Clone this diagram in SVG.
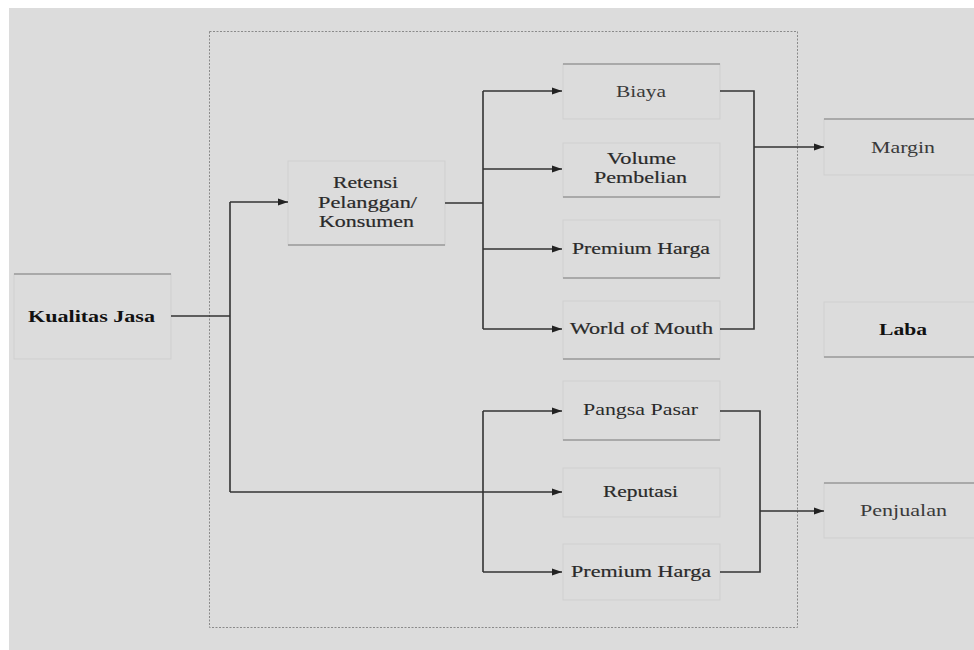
<svg xmlns="http://www.w3.org/2000/svg" width="974" height="650" viewBox="0 0 974 650">
  <style>
    .box { fill: #dcdcdc; stroke: #cfcfcf; stroke-width: 1; }
    .edge { stroke: #9a9a9a; stroke-width: 1.5; fill: none; }
    .lbl { font-family: "Liberation Serif", "Times New Roman", serif; font-size: 17px; fill: #2a2a2a; text-anchor: start; }
    .heavy { stroke: #2a2a2a; stroke-width: 0.2; }
    .light { fill: #3a3a3a; }
    .bold { font-weight: bold; fill: #111; }
    .wire { stroke: #333; stroke-width: 1.6; fill: none; }
    .frame { fill: none; stroke: #8a8a8a; stroke-width: 1; stroke-dasharray: 2 1.5; }
  </style>
  <defs>
    <marker id="arrow" markerWidth="10" markerHeight="8" refX="10" refY="4" orient="auto" markerUnits="userSpaceOnUse">
      <path d="M0,0.5 L10,4 L0,7.5 Z" fill="#222"/>
    </marker>
  </defs>

  <!-- page background -->
  <rect x="0" y="0" width="974" height="650" fill="#ffffff"/>
  <rect x="9" y="8" width="965" height="642" fill="#dcdcdc"/>

  <!-- dotted boundary around the mediating factors -->
  <rect class="frame" x="209.5" y="31.5" width="588" height="596"/>

  <!-- nodes -->
  <g id="kualitas-jasa">
    <rect class="box" x="14" y="274" width="157" height="85"/>
    <line class="edge" x1="14" y1="274" x2="171" y2="274"/>
    <text class="lbl bold" x="28" y="322" textLength="127" lengthAdjust="spacingAndGlyphs">Kualitas Jasa</text>
  </g>

  <g id="retensi">
    <rect class="box" x="288" y="161" width="157" height="84"/>
    <line class="edge" x1="288" y1="245" x2="445" y2="245"/>
    <text class="lbl heavy" x="333" y="188" textLength="65" lengthAdjust="spacingAndGlyphs">Retensi</text>
    <text class="lbl heavy" x="318" y="208" textLength="99" lengthAdjust="spacingAndGlyphs">Pelanggan/</text>
    <text class="lbl heavy" x="319" y="227" textLength="95" lengthAdjust="spacingAndGlyphs">Konsumen</text>
  </g>

  <g id="biaya">
    <rect class="box" x="563" y="64" width="157" height="55"/>
    <line class="edge" x1="563" y1="64" x2="720" y2="64" stroke="#b5b5b5"/>
    <text class="lbl light" x="616" y="97" textLength="50" lengthAdjust="spacingAndGlyphs">Biaya</text>
  </g>

  <g id="volume-pembelian">
    <rect class="box" x="563" y="143" width="157" height="54"/>
    <line class="edge" x1="563" y1="197" x2="720" y2="197"/>
    <text class="lbl heavy" x="607" y="164" textLength="69" lengthAdjust="spacingAndGlyphs">Volume</text>
    <text class="lbl heavy" x="594" y="183" textLength="93" lengthAdjust="spacingAndGlyphs">Pembelian</text>
  </g>

  <g id="premium-harga-1">
    <rect class="box" x="563" y="220" width="157" height="58"/>
    <line class="edge" x1="563" y1="278" x2="720" y2="278"/>
    <text class="lbl heavy" x="572" y="254" textLength="138" lengthAdjust="spacingAndGlyphs">Premium Harga</text>
  </g>

  <g id="world-of-mouth">
    <rect class="box" x="563" y="301" width="157" height="58"/>
    <line class="edge" x1="563" y1="359" x2="720" y2="359"/>
    <text class="lbl heavy" x="570" y="334" textLength="143" lengthAdjust="spacingAndGlyphs">World of Mouth</text>
  </g>

  <g id="pangsa-pasar">
    <rect class="box" x="563" y="381" width="157" height="59"/>
    <line class="edge" x1="563" y1="440" x2="720" y2="440"/>
    <text class="lbl" x="583" y="415" textLength="115" lengthAdjust="spacingAndGlyphs">Pangsa Pasar</text>
  </g>

  <g id="reputasi">
    <rect class="box" x="563" y="468" width="157" height="49"/>
    <text class="lbl heavy" x="603" y="497" textLength="75" lengthAdjust="spacingAndGlyphs">Reputasi</text>
  </g>

  <g id="premium-harga-2">
    <rect class="box" x="563" y="544" width="157" height="56"/>
    <text class="lbl heavy" x="571" y="577" textLength="140" lengthAdjust="spacingAndGlyphs">Premium Harga</text>
  </g>

  <g id="margin">
    <rect class="box" x="824" y="119" width="170" height="56"/>
    <line class="edge" x1="824" y1="119" x2="974" y2="119"/>
    <text class="lbl light" x="871" y="153" textLength="64" lengthAdjust="spacingAndGlyphs">Margin</text>
  </g>

  <g id="laba">
    <rect class="box" x="824" y="302" width="170" height="55"/>
    <line class="edge" x1="824" y1="357" x2="974" y2="357"/>
    <text class="lbl bold" x="879" y="335" textLength="48" lengthAdjust="spacingAndGlyphs">Laba</text>
  </g>

  <g id="penjualan">
    <rect class="box" x="824" y="483" width="170" height="55"/>
    <line class="edge" x1="824" y1="483" x2="974" y2="483" stroke="#b5b5b5"/>
    <text class="lbl light" x="860" y="516" textLength="87" lengthAdjust="spacingAndGlyphs">Penjualan</text>
  </g>

  <!-- connectors -->
  <g id="connectors">
    <!-- Kualitas Jasa trunk -->
    <polyline class="wire" points="171,316 230,316"/>
    <polyline class="wire" points="230,202 230,492"/>
    <polyline class="wire" points="230,202 288,202" marker-end="url(#arrow)"/>
    <polyline class="wire" points="230,492 562,492" marker-end="url(#arrow)"/>

    <!-- Retensi fan-out -->
    <polyline class="wire" points="445,203 483,203"/>
    <polyline class="wire" points="483,91 483,329"/>
    <polyline class="wire" points="483,91 562,91" marker-end="url(#arrow)"/>
    <polyline class="wire" points="483,169 562,169" marker-end="url(#arrow)"/>
    <polyline class="wire" points="483,249 562,249" marker-end="url(#arrow)"/>
    <polyline class="wire" points="483,329 562,329" marker-end="url(#arrow)"/>

    <!-- lower fan-out -->
    <polyline class="wire" points="483,411 483,572"/>
    <polyline class="wire" points="483,411 562,411" marker-end="url(#arrow)"/>
    <polyline class="wire" points="483,572 562,572" marker-end="url(#arrow)"/>

    <!-- upper merge to Margin -->
    <polyline class="wire" points="720,91 754,91 754,329 720,329"/>
    <polyline class="wire" points="754,147 824,147" marker-end="url(#arrow)"/>

    <!-- lower merge to Penjualan -->
    <polyline class="wire" points="720,411 760,411 760,572 720,572"/>
    <polyline class="wire" points="760,511 824,511" marker-end="url(#arrow)"/>
  </g>
</svg>
